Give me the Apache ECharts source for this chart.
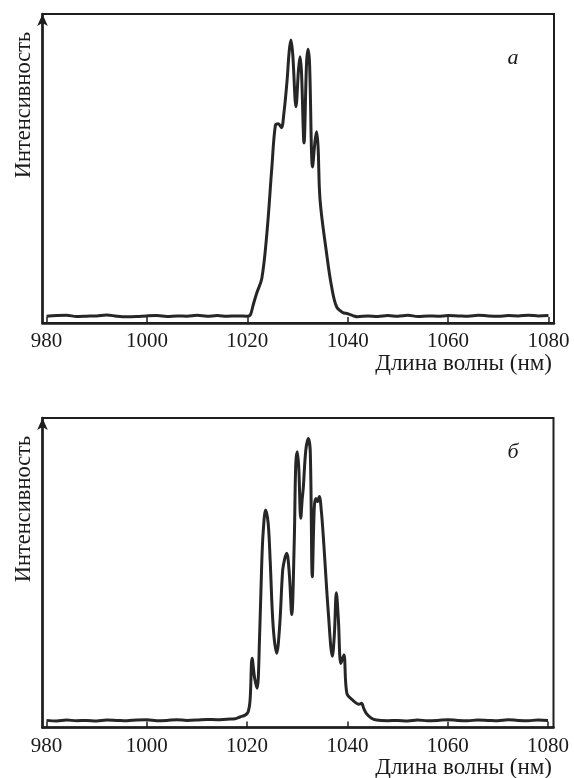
<!DOCTYPE html>
<html>
<head>
<meta charset="utf-8">
<script src="https://cdn.jsdelivr.net/npm/echarts@6/dist/echarts.min.js"></script>
<style>
  html, body { margin: 0; padding: 0; background: #fff; }
  #chart { width: 574px; height: 778px; }
</style>
</head>
<body>
<div id="chart"></div>
<script>
// wavelength ticks (nm)
var tickValues = [980, 1000, 1020, 1040, 1060, 1080];

// panel a: wavelength (nm) and intensity (0..100 of plot height)
var waveA = [980, 982, 984, 986, 988, 990, 992, 994, 996, 998, 1000, 1002, 1004, 1006, 1008, 1010, 1012, 1014, 1016, 1018, 1020,
  1020.6, 1021.2, 1021.9, 1022.9, 1023.9, 1024.9, 1025.6, 1026.2, 1026.8, 1027.3, 1027.9, 1028.35, 1028.7, 1029.05, 1029.7, 1030.2, 1030.5, 1030.8,
  1031.3, 1031.8, 1032.1, 1032.4, 1033.0, 1033.5, 1033.8, 1034.1,
  1034.5, 1035.8, 1036.8, 1037.8, 1039.0, 1040, 1041, 1042,
  1044, 1046, 1048, 1050, 1052, 1054, 1056, 1058, 1060, 1062, 1064, 1066, 1068, 1070, 1072, 1074, 1076, 1078, 1080];
var intensA = [2.2, 2.4, 2.5, 2.1, 2.2, 2.3, 2.6, 2.2, 2.0, 2.1, 2.3, 2.4, 2.1, 2.3, 2.2, 2.5, 2.2, 2.4, 2.2, 2.3, 2.2,
  2.6, 6.0, 9.8, 14.5, 29, 50.5, 64.0, 64.5, 63.2, 68, 78, 88, 91.6, 87, 70, 82, 86.2, 81,
  58.3, 84, 88.6, 84, 50.5, 59, 61.9, 57,
  39.7, 22.5, 11.7, 5.2, 3.4, 3.0, 2.4, 2.0,
  2.3, 2.1, 2.4, 2.2, 2.5, 2.1, 2.3, 2.2, 2.4, 2.3, 2.2, 2.5, 2.3, 2.2, 2.4, 2.3, 2.5, 2.3, 2.4];

// panel б
var waveB = [980, 982, 984, 986, 988, 990, 992, 994, 996, 998, 1000, 1002, 1004, 1006, 1008, 1010, 1012, 1014, 1016, 1017.6, 1018.6, 1019.6, 1020.2,
  1020.6, 1021.0, 1021.5, 1022.0, 1022.5, 1022.9, 1023.2, 1023.7, 1024.2, 1024.6, 1025.2, 1025.9, 1026.5, 1027.1, 1027.5, 1027.9, 1028.4, 1028.9,
  1029.4, 1029.7, 1030.0, 1030.3, 1030.7, 1031.0, 1031.2, 1031.7, 1032.2, 1032.6, 1033.0, 1033.4, 1033.7, 1034.0, 1034.4, 1034.8, 1035.2, 1036.2, 1037.0,
  1037.4, 1037.8, 1038.2, 1038.7, 1039.3, 1039.9, 1041.1, 1042.3, 1042.8, 1043.3, 1043.8, 1044.8, 1045.8,
  1048, 1050, 1052, 1054, 1056, 1058, 1060, 1062, 1064, 1066, 1068, 1070, 1072, 1074, 1076, 1078, 1080];
var intensB = [2.3, 2.1, 2.4, 2.2, 2.3, 2.1, 2.4, 2.3, 2.2, 2.4, 2.5, 2.2, 2.3, 2.5, 2.3, 2.4, 2.6, 2.5, 2.7, 2.8, 3.4, 4.0, 5.0,
  9, 22.4, 16, 12.7, 30, 52, 63, 70.3, 66, 54, 32.6, 24.0, 33, 50.9, 54.5, 56.3, 50, 36.5,
  60, 85, 89.1, 84, 67.6, 74, 77.3, 89.5, 93.4, 89, 48.7, 71, 74, 73, 74.6, 70, 61.6, 37, 23,
  30, 43.5, 35, 20.7, 23.4, 11, 8.8, 7.5, 7.8, 6, 4.5, 3.0, 2.4,
  2.2, 2.3, 2.1, 2.4, 2.2, 2.3, 2.5, 2.3, 2.2, 2.4, 2.3, 2.2, 2.5, 2.3, 2.2, 2.4, 2.3];

var xMin = 979.2, xMax = 1081.1;
var serif = '"Liberation Serif", "DejaVu Serif", serif';
var inkColor = '#1e1e1e';

function pairs(xs, ys) {
    return xs.map(function (x, i) { return [x, ys[i]]; });
}

function makeX(gridIndex) {
    return {
        type: 'value', gridIndex: gridIndex, min: xMin, max: xMax,
        axisLine: { show: true, lineStyle: { color: inkColor, width: 2.5 } },
        axisTick: { show: true, inside: true, length: 6, customValues: tickValues, lineStyle: { color: inkColor, width: 1.5 } },
        axisLabel: {
            show: true, customValues: tickValues, margin: 8, color: '#1a1a1a', fontFamily: serif, fontSize: 21,
            formatter: function (v) { return String(v); }
        },
        splitLine: { show: false }
    };
}

function makeY(gridIndex) {
    return {
        type: 'value', gridIndex: gridIndex, min: 0, max: 100,
        axisLine: { show: true, symbol: ['none', 'arrow'], symbolSize: [8, 12], lineStyle: { color: inkColor, width: 2.5 } },
        axisTick: { show: false },
        axisLabel: { show: false },
        splitLine: { show: false }
    };
}

function makeSeries(idx, data) {
    return {
        type: 'line', xAxisIndex: idx, yAxisIndex: idx, data: data,
        showSymbol: false, smooth: 0.35, silent: true,
        lineStyle: { color: '#262626', width: 3 }
    };
}

var myChart = echarts.init(document.getElementById('chart'), null, { renderer: 'canvas' });

var option = {
    animation: false,
    backgroundColor: '#fff',
    grid: [
        { left: 42.5, top: 14, width: 511.5, height: 309, show: true, borderColor: inkColor, borderWidth: 2 },
        { left: 42.5, top: 418, width: 511, height: 309.5, show: true, borderColor: inkColor, borderWidth: 2 }
    ],
    xAxis: [makeX(0), makeX(1)],
    yAxis: [makeY(0), makeY(1)],
    series: [makeSeries(0, pairs(waveA, intensA)), makeSeries(1, pairs(waveB, intensB))],
    graphic: [
        { type: 'text', x: 24, y: 105, rotation: Math.PI / 2,
          style: { text: 'Интенсивность', textAlign: 'center', textVerticalAlign: 'middle', font: '22.5px ' + serif, fill: '#1a1a1a' } },
        { type: 'text', x: 24, y: 509, rotation: Math.PI / 2,
          style: { text: 'Интенсивность', textAlign: 'center', textVerticalAlign: 'middle', font: '22.5px ' + serif, fill: '#1a1a1a' } },
        { type: 'text', x: 552, y: 364,
          style: { text: 'Длина волны (нм)', textAlign: 'right', textVerticalAlign: 'middle', font: '23px ' + serif, fill: '#1a1a1a' } },
        { type: 'text', x: 552, y: 768,
          style: { text: 'Длина волны (нм)', textAlign: 'right', textVerticalAlign: 'middle', font: '23px ' + serif, fill: '#1a1a1a' } },
        { type: 'text', x: 513, y: 58,
          style: { text: 'а', textAlign: 'center', textVerticalAlign: 'middle', font: 'italic 22px ' + serif, fill: '#1a1a1a' } },
        { type: 'text', x: 513, y: 452,
          style: { text: 'б', textAlign: 'center', textVerticalAlign: 'middle', font: 'italic 22px ' + serif, fill: '#1a1a1a' } }
    ]
};

myChart.setOption(option);
</script>
</body>
</html>
